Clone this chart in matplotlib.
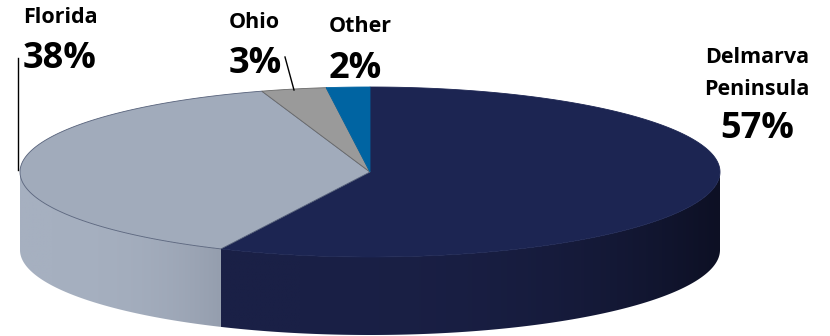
import numpy as np
import matplotlib.pyplot as plt
from matplotlib.patches import Polygon
from matplotlib.colors import LinearSegmentedColormap

plt.rcParams["font.family"] = ["Open Sans", "DejaVu Sans"]

regions = ["Delmarva\nPeninsula", "Florida", "Ohio", "Other"]
shares = [57, 38, 3, 2]
top_colors = ["#1c2552", "#a1abbb", "#9a9a9a", "#0064a2"]
side_colors = [("#1a2046", "#0d1024"), ("#a6b0c0", "#959eae"),
               ("#7f7f7f", "#7f7f7f"), ("#004f80", "#004f80")]
edge_colors = ["#1c2552", "#56617a", "#6a6a6a", "#0064a2"]

# ellipse geometry in pixel units (y grows downward)
CX, CY = 370, 172
RX, RY = 350, 85
DEPTH = 78

fig = plt.figure(figsize=(8.3, 3.36), dpi=100)
ax = fig.add_axes([0, 0, 1, 1])
ax.axis("off")


def rim(t0, t1, n=240):
    t = np.linspace(t0, t1, n)
    return CX + RX * np.sin(t), CY - RY * np.cos(t)


frac = np.cumsum([0] + shares) / sum(shares) * 2 * np.pi

# front walls of the disc
for i in range(len(shares)):
    a, b = max(frac[i], np.pi / 2), min(frac[i + 1], 3 * np.pi / 2)
    if a >= b:
        continue
    xs, ys = rim(a, b)
    pts = np.column_stack([np.r_[xs, xs[::-1]], np.r_[ys, ys[::-1] + DEPTH]])
    wall = Polygon(pts, closed=True, facecolor="none", edgecolor="none")
    ax.add_patch(wall)
    cmap = LinearSegmentedColormap.from_list("wall", side_colors[i])
    x0, x1 = pts[:, 0].min(), pts[:, 0].max()
    if x0 > 300:
        grad = np.linspace(0, 1, 256)[None, :]
    else:
        grad = np.linspace(0, 1, 256)[None, :] ** 3
    im = ax.imshow(grad, cmap=cmap, aspect="auto", interpolation="bilinear",
                   extent=(x0, x1, pts[:, 1].max(), pts[:, 1].min()), zorder=1)
    im.set_clip_path(wall)

# top face wedges
for i in range(len(shares)):
    xs, ys = rim(frac[i], frac[i + 1])
    pts = np.column_stack([np.r_[CX, xs], np.r_[CY, ys]])
    ax.add_patch(Polygon(pts, closed=True, facecolor=top_colors[i],
                         edgecolor=edge_colors[i], lw=0.6, zorder=2))

ax.set_xlim(0, 830)
ax.set_ylim(336, 0)

# labels
txt = dict(fontweight="bold", color="black", ha="center", va="baseline", zorder=5)
NAME, PCT = 15.5, 26
ax.text(60, 23, regions[1], fontsize=NAME, **txt)
ax.text(60, 68, f"{shares[1]}%", fontsize=PCT, **txt)
ax.text(254, 28, regions[2], fontsize=NAME, **txt)
ax.text(255, 73, f"{shares[2]}%", fontsize=PCT, **txt)
ax.text(360, 32, regions[3], fontsize=NAME, **txt)
ax.text(355, 78, f"{shares[3]}%", fontsize=PCT, **txt)
for line, base in zip(regions[0].split("\n"), [63, 95]):
    ax.text(757, base, line, fontsize=NAME, **txt)
ax.text(757, 138, f"{shares[0]}%", fontsize=PCT, **txt)

# leader lines
ax.plot([18, 18], [58, 170], color="black", lw=1, zorder=4)
ax.plot([285, 294], [57, 90], color="black", lw=1, zorder=4)

fig.savefig("out.png", dpi=100, facecolor="white")
